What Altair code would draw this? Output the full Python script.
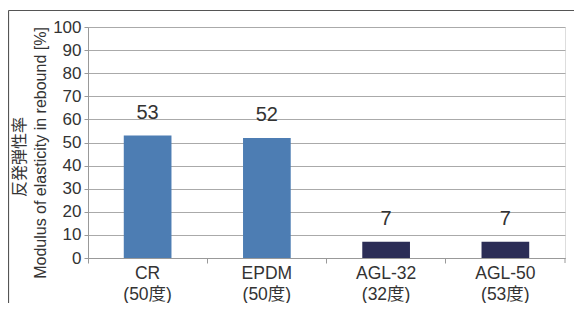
import altair as alt
import pandas as pd

names = ["CR", "EPDM", "AGL-32", "AGL-50"]
hardness = ["(50度)", "(50度)", "(32度)", "(53度)"]
values = [53, 52, 7, 7]
colors = ["#4d7db3", "#4d7db3", "#2b2d56", "#2b2d56"]
y_ticks = [0, 10, 20, 30, 40, 50, 60, 70, 80, 90, 100]
title_ja = "反発弾性率"
title_en = "Modulus of elasticity in rebound [%]"

df = pd.DataFrame({
    "cat": [f"{n}|{h}" for n, h in zip(names, hardness)],
    "value": values,
    "color": colors,
})

FONT = "Liberation Sans, Noto Sans CJK JP, sans-serif"
W, H = 477, 231

x_enc = alt.X(
    "cat:N", sort=None,
    scale=alt.Scale(paddingInner=0, paddingOuter=0),
    axis=alt.Axis(
        title=None, labelAngle=0, bandPosition=0,
        labelExpr="split(datum.label, '|')",
        labelFontSize=17.5, labelLineHeight=21, labelBaseline="top",
        labelPadding=1, tickSize=5, tickColor="#999999",
        domainColor="#999999", labelColor="#333333", labelFont=FONT,
    ),
)
y_enc = alt.Y(
    "value:Q",
    scale=alt.Scale(domain=[0, 100], nice=False),
    axis=alt.Axis(
        values=y_ticks, title=None,
        labelFontSize=17, labelColor="#333333", labelFont=FONT, labelPadding=3,
        labelOverlap=False,
        tickSize=4, tickColor="#999999", domainColor="#999999",
        gridColor="#aaaaaa", gridWidth=1,
    ),
)

base = alt.Chart(df).encode(x=x_enc, y=y_enc)

bars = base.mark_bar(width=alt.RelativeBandSize(0.4)).encode(
    color=alt.Color("color:N", scale=None)
)
labels = base.mark_text(
    baseline="bottom", dy=-13, fontSize=20, color="#333333", font=FONT
).encode(text="value:Q")

one = pd.DataFrame({"k": [0]})
t_ja = alt.Chart(one).mark_text(
    angle=270, align="center", baseline="middle", fontSize=16,
    color="#333333", font=FONT
).encode(x=alt.value(-68), y=alt.value(130), text=alt.value(title_ja))
t_en = alt.Chart(one).mark_text(
    angle=270, align="center", baseline="middle", fontSize=16,
    color="#333333", font=FONT
).encode(x=alt.value(-47), y=alt.value(126), text=alt.value(title_en))

end_tick = alt.Chart(one).mark_rule(color="#999999").encode(
    x=alt.value(W), y=alt.value(H), y2=alt.value(H + 5)
)
frame_top = alt.Chart(one).mark_rule(color="#555555", strokeWidth=1.2).encode(
    x=alt.value(-79.5), x2=alt.value(W + 9), y=alt.value(-16.5)
)
frame_left = alt.Chart(one).mark_rule(color="#555555", strokeWidth=1.2).encode(
    x=alt.value(-79.5), y=alt.value(-16.5), y2=alt.value(H + 45)
)

chart = alt.layer(bars, labels, t_ja, t_en, end_tick, frame_top, frame_left).properties(
    width=W, height=H,
    autosize=alt.AutoSizeParams(type="none"),
    padding={"left": 80, "top": 19, "right": 9, "bottom": 45},
).configure_view(stroke=None).configure(background="white")

chart.save("out.html", embed_options={"renderer": "svg", "actions": False})
